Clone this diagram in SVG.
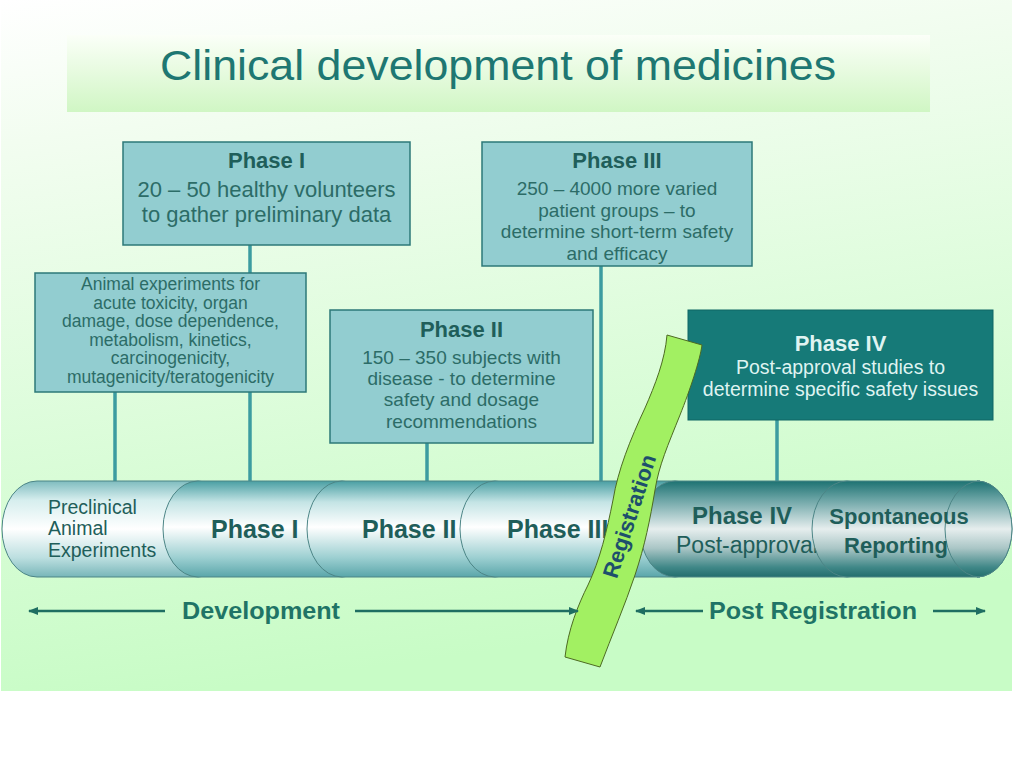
<svg xmlns="http://www.w3.org/2000/svg" width="1024" height="768" viewBox="0 0 1024 768">
<defs>
  <linearGradient id="bg" x1="0" y1="0" x2="0.2" y2="1">
    <stop offset="0" stop-color="#ffffff"/>
    <stop offset="0.2" stop-color="#f2fdf0"/>
    <stop offset="1" stop-color="#c8fcc6"/>
  </linearGradient>
  <linearGradient id="band" x1="0" y1="0" x2="0" y2="1">
    <stop offset="0" stop-color="#fbfff8"/>
    <stop offset="1" stop-color="#d0f6c4"/>
  </linearGradient>
  <linearGradient id="cylPale" x1="0" y1="0" x2="0" y2="1">
    <stop offset="0" stop-color="#7fbcbf"/>
    <stop offset="0.2" stop-color="#d6eeee"/>
    <stop offset="0.5" stop-color="#ffffff"/>
    <stop offset="0.8" stop-color="#bcdfe0"/>
    <stop offset="1" stop-color="#78b6b9"/>
  </linearGradient>
  <linearGradient id="cylLight" x1="0" y1="0" x2="0" y2="1">
    <stop offset="0" stop-color="#4a9fa3"/>
    <stop offset="0.22" stop-color="#c4e4e5"/>
    <stop offset="0.48" stop-color="#ffffff"/>
    <stop offset="0.8" stop-color="#9ccfd1"/>
    <stop offset="1" stop-color="#5aa6aa"/>
  </linearGradient>
  <linearGradient id="cylDark" x1="0" y1="0" x2="0" y2="1">
    <stop offset="0" stop-color="#1d7272"/>
    <stop offset="0.2" stop-color="#6ea6a7"/>
    <stop offset="0.5" stop-color="#e6eeee"/>
    <stop offset="0.7" stop-color="#aac6c6"/>
    <stop offset="0.9" stop-color="#3f8787"/>
    <stop offset="1" stop-color="#246e6e"/>
  </linearGradient>
  <marker id="ah" viewBox="0 0 10 10" refX="9" refY="5" markerWidth="4" markerHeight="4" orient="auto-start-reverse" markerUnits="strokeWidth">
    <path d="M0,1 L10,5 L0,9 z" fill="#1f6e62"/>
  </marker>
  <style>
    .box { fill: #92cdd0; stroke: #2c7878; stroke-width: 1.5; }
    .dark { fill: #167a78; stroke: #0f6664; stroke-width: 1; }
    .conn { stroke: #3c9ca0; stroke-width: 3.5; fill: none; }
    .seg { stroke: #4c8586; stroke-width: 1; }
    .t { font-family: "Liberation Sans", Arial, sans-serif; text-anchor: middle; }
    .hd { font-weight: bold; font-size: 22px; fill: #1f5e5a; }
    .bd { fill: #2c6c67; }
    .wh { fill: #dff3f1; }
    .cyl { font-family: "Liberation Sans", Arial, sans-serif; fill: #1f5e5a; }
    .arr { stroke: #1f6e62; stroke-width: 2.5; fill: none; marker-end: url(#ah); }
    .lbl { font-family: "Liberation Sans", Arial, sans-serif; font-weight: bold; font-size: 24px; fill: #1f7466; }
  </style>
</defs>

<rect x="0" y="0" width="1024" height="768" fill="#ffffff"/>
<rect x="1" y="0" width="1011" height="691" fill="url(#bg)"/>

<g id="title">
  <rect x="67" y="35" width="863" height="77" fill="url(#band)"/>
  <text x="498" y="80" class="t" font-size="43" fill="#1e7772" textLength="676" lengthAdjust="spacingAndGlyphs">Clinical development of medicines</text>
</g>

<g id="connectors">
  <line class="conn" x1="250" y1="245" x2="250" y2="482"/>
  <line class="conn" x1="115" y1="392" x2="115" y2="482"/>
  <line class="conn" x1="427" y1="443" x2="427" y2="482"/>
  <line class="conn" x1="601" y1="266" x2="601" y2="482"/>
  <line class="conn" x1="777" y1="420" x2="777" y2="482"/>
</g>

<g id="box-phase1">
  <rect class="box" x="123" y="142" width="287" height="103"/>
  <text class="t hd" x="266.5" y="168">Phase I</text>
  <g class="t bd" font-size="22">
    <text x="266.5" y="197">20 – 50 healthy volunteers</text>
    <text x="266.5" y="222">to gather preliminary data</text>
  </g>
</g>

<g id="box-animal">
  <rect class="box" x="35" y="273" width="271" height="119"/>
  <g class="t bd" font-size="17.5">
    <text x="170.5" y="290">Animal experiments for</text>
    <text x="170.5" y="308.6">acute toxicity, organ</text>
    <text x="170.5" y="327.2">damage, dose dependence,</text>
    <text x="170.5" y="345.8">metabolism, kinetics,</text>
    <text x="170.5" y="364.4">carcinogenicity,</text>
    <text x="170.5" y="383">mutagenicity/teratogenicity</text>
  </g>
</g>

<g id="box-phase2">
  <rect class="box" x="330" y="310" width="263" height="133"/>
  <text class="t hd" x="461.5" y="337">Phase II</text>
  <g class="t bd" font-size="19">
    <text x="461.5" y="364">150 – 350 subjects with</text>
    <text x="461.5" y="385">disease - to determine</text>
    <text x="461.5" y="406">safety and dosage</text>
    <text x="461.5" y="428">recommendations</text>
  </g>
</g>

<g id="box-phase3">
  <rect class="box" x="482" y="142" width="270" height="124"/>
  <text class="t hd" x="617" y="168">Phase III</text>
  <g class="t bd" font-size="19">
    <text x="617" y="195">250 – 4000 more varied</text>
    <text x="617" y="217">patient groups – to</text>
    <text x="617" y="238">determine short-term safety</text>
    <text x="617" y="260">and efficacy</text>
  </g>
</g>

<g id="box-phase4">
  <rect class="dark" x="688" y="310" width="305" height="110"/>
  <text class="t hd wh" x="840.5" y="351">Phase IV</text>
  <g class="t wh" font-size="19.5">
    <text x="840.5" y="374">Post-approval studies to</text>
    <text x="840.5" y="396">determine specific safety issues</text>
  </g>
</g>

<g id="timeline">
  <g id="seg-preclinical">
    <path class="seg" fill="url(#cylPale)" d="M37,481 H198 A35 48 0 0 1 198,577 H37 A35 48 0 0 1 37,481 Z"/>
    <g class="cyl" font-size="19.5">
      <text x="48" y="514">Preclinical</text>
      <text x="48" y="535">Animal</text>
      <text x="48" y="557">Experiments</text>
    </g>
  </g>
  <g id="seg-phase1">
    <path class="seg" fill="url(#cylLight)" d="M198,481 H342 A35 48 0 0 1 342,577 H198 A35 48 0 0 1 198,481 Z"/>
    <text class="cyl" x="211" y="538" font-size="25" font-weight="bold">Phase I</text>
  </g>
  <g id="seg-phase2">
    <path class="seg" fill="url(#cylLight)" d="M342,481 H495 A35 48 0 0 1 495,577 H342 A35 48 0 0 1 342,481 Z"/>
    <text class="cyl" x="362" y="538" font-size="25" font-weight="bold">Phase II</text>
  </g>
  <g id="seg-phase3">
    <path class="seg" fill="url(#cylLight)" d="M495,481 H675 A35 48 0 0 1 675,577 H495 A35 48 0 0 1 495,481 Z"/>
    <text class="cyl" x="507" y="538" font-size="25" font-weight="bold">Phase III</text>
  </g>
  <g id="seg-phase4">
    <path class="seg" fill="url(#cylDark)" d="M675,481 H847 A35 48 0 0 1 847,577 H675 A35 48 0 0 1 675,481 Z"/>
    <text class="cyl" x="692" y="524" font-size="24" font-weight="bold" fill="#245c58">Phase IV</text>
    <text class="cyl" x="676" y="553" font-size="23" fill="#2a5e5a">Post-approval</text>
  </g>
  <g id="seg-spontaneous">
    <path class="seg" fill="url(#cylDark)" d="M847,481 H977 A35 48 0 0 1 977,577 H847 A35 48 0 0 1 847,481 Z"/>
    <path class="seg" fill="url(#cylDark)" d="M980,481 H977 A35 48 0 0 1 977,577 H980 A35 48 0 0 1 980,481 Z"/>
    <text class="cyl" x="899" y="524" font-size="22" font-weight="bold" text-anchor="middle" fill="#245c58">Spontaneous</text>
    <text class="cyl" x="896" y="553" font-size="22" font-weight="bold" text-anchor="middle" fill="#245c58">Reporting</text>
  </g>
</g>

<g id="registration">
  <path d="M667,335 L702,345 C700,360 690,390 680,415 C668,445 659,465 655,490 C650,520 645,545 635,575 C625,605 612,635 600,667 L565,657 C568,630 578,605 588,585 C600,560 607,530 613,500 C618,470 630,440 645,408 C655,385 665,360 667,335 Z" fill="#a2f062" stroke="#4d6a22" stroke-width="1"/>
  <text transform="translate(629,516) rotate(-72)" x="0" y="8" text-anchor="middle" font-family="Liberation Sans, Arial, sans-serif" font-size="22" font-weight="bold" fill="#1d4f6c">Registration</text>
</g>

<g id="phases-axis">
  <line class="arr" x1="165" y1="611" x2="29" y2="611"/>
  <line class="arr" x1="355" y1="611" x2="578" y2="611"/>
  <line class="arr" x1="703" y1="611" x2="636" y2="611"/>
  <line class="arr" x1="933" y1="611" x2="985" y2="611"/>
  <text class="lbl" x="182" y="619" textLength="158" lengthAdjust="spacingAndGlyphs">Development</text>
  <text class="lbl" x="709" y="619" textLength="208" lengthAdjust="spacingAndGlyphs">Post Registration</text>
</g>
</svg>
